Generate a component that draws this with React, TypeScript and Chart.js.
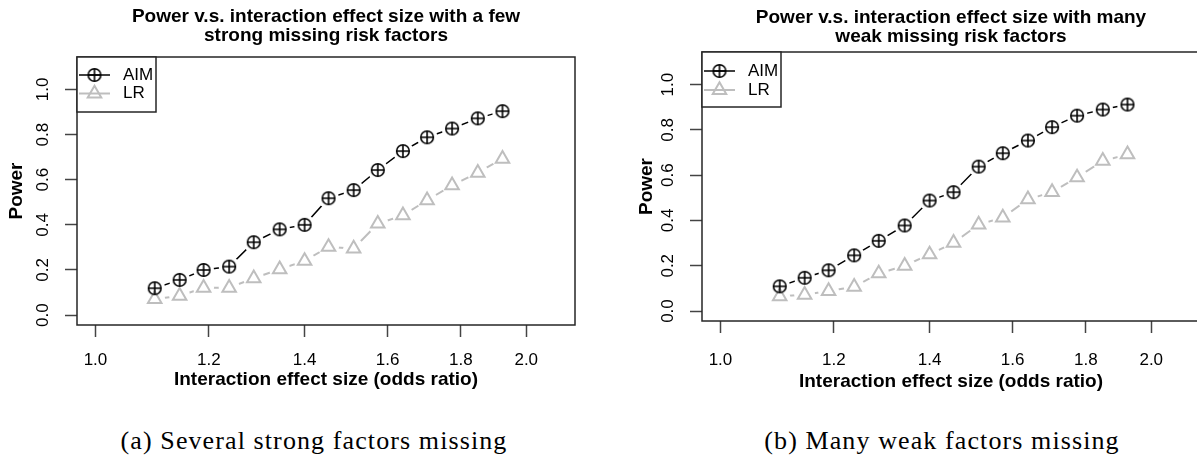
import React, { useEffect, useRef } from 'react';
import { Chart, registerables } from 'chart.js';

Chart.register(...registerables);

// ---------------- data ----------------
const oddsRatios = [1.1, 1.145, 1.19, 1.24, 1.29, 1.345, 1.4, 1.455, 1.515, 1.575, 1.64, 1.705, 1.775, 1.85, 1.925];
const xTickValues = [1.0, 1.2, 1.4, 1.6, 1.8, 2.0];
const yTickValues = [0.0, 0.2, 0.4, 0.6, 0.8, 1.0];
const seriesNames = ['AIM', 'LR'];

const strongAim = [0.119, 0.156, 0.2, 0.215, 0.323, 0.38, 0.4, 0.518, 0.554, 0.643, 0.727, 0.788, 0.827, 0.872, 0.904];
const strongLr = [0.071, 0.085, 0.121, 0.121, 0.163, 0.203, 0.24, 0.302, 0.295, 0.405, 0.442, 0.509, 0.575, 0.631, 0.693];
const weakAim = [0.109, 0.147, 0.18, 0.246, 0.31, 0.378, 0.488, 0.525, 0.638, 0.697, 0.753, 0.812, 0.863, 0.89, 0.912];
const weakLr = [0.065, 0.072, 0.088, 0.107, 0.166, 0.2, 0.25, 0.301, 0.382, 0.413, 0.493, 0.525, 0.59, 0.663, 0.692];

const titleStrong = ['Power v.s. interaction effect size with a few', 'strong missing risk factors'];
const titleWeak = ['Power v.s. interaction effect size with many', 'weak missing risk factors'];
const captionStrong = '(a) Several strong factors missing';
const captionWeak = '(b) Many weak factors missing';
const xAxisTitle = 'Interaction effect size (odds ratio)';
const yAxisTitle = 'Power';

// axis limits (R: xlim = c(1, 2.1) on log scale, ylim = c(0, 1.1), each extended by 4%)
const xMin = 0.9707;
const xMax = 2.1632;
const yMin = -0.044;
const yMax = 1.144;

// ---------------- styling ----------------
const SANS = "'Liberation Sans', Arial, Helvetica, sans-serif";
const SERIF = "'Liberation Serif', 'Times New Roman', serif";
const BLACK = '#000000';
const GRAY = '#bebebe';
const FRAME = '#262626';
const CANVAS_W = 652;
const CANVAS_H = 400;

type Geom = {
  titleTop: number;
  titleBottom: number;
  xAxisHeight: number;
  xTickPad: number;
  xTitlePad: number;
  yTitlePad: number;
  legendRow1: number;
  legendRow2: number;
};

function makeCirclePlus(r: number, lw: number): HTMLCanvasElement {
  const size = 18;
  const c = document.createElement('canvas');
  c.width = size;
  c.height = size;
  const g = c.getContext('2d')!;
  const m = size / 2;
  g.strokeStyle = BLACK;
  g.lineWidth = lw;
  g.beginPath();
  g.arc(m, m, r, 0, Math.PI * 2);
  g.stroke();
  g.beginPath();
  g.moveTo(m - r, m);
  g.lineTo(m + r, m);
  g.moveTo(m, m - r);
  g.lineTo(m, m + r);
  g.stroke();
  return c;
}

function drawTriangle(ctx: CanvasRenderingContext2D, x: number, y: number, r: number) {
  const hw = r * Math.sin(Math.PI / 3);
  ctx.beginPath();
  ctx.moveTo(x, y - r);
  ctx.lineTo(x + hw, y + r / 2);
  ctx.lineTo(x - hw, y + r / 2);
  ctx.closePath();
  ctx.stroke();
}

function makeFramePlugin(plusImg: HTMLCanvasElement, geom: Geom) {
  return {
    id: 'rFrameLegend',
    afterDatasetsDraw(chart: any) {
      const { ctx, chartArea: a } = chart;
      ctx.save();
      // plot box
      ctx.strokeStyle = FRAME;
      ctx.lineWidth = 1.5;
      ctx.strokeRect(a.left, a.top, a.right - a.left, a.bottom - a.top);
      // legend box
      const lx = a.left;
      const ly = a.top;
      const lw = 79;
      const lh = 55;
      ctx.fillStyle = '#ffffff';
      ctx.fillRect(lx, ly, lw, lh);
      ctx.strokeRect(lx, ly, lw, lh);
      const rows = [ly + geom.legendRow1, ly + geom.legendRow2];
      // AIM entry
      ctx.strokeStyle = BLACK;
      ctx.lineWidth = 1.5;
      ctx.beginPath();
      ctx.moveTo(lx + 2, rows[0]);
      ctx.lineTo(lx + 33, rows[0]);
      ctx.stroke();
      ctx.drawImage(plusImg, lx + 17.5 - plusImg.width / 2, rows[0] - plusImg.height / 2);
      // LR entry
      ctx.strokeStyle = GRAY;
      ctx.lineWidth = 2;
      ctx.beginPath();
      ctx.moveTo(lx + 2, rows[1]);
      ctx.lineTo(lx + 33, rows[1]);
      ctx.stroke();
      drawTriangle(ctx, lx + 17.5, rows[1], 7.8);
      // labels
      ctx.fillStyle = BLACK;
      ctx.font = `17px ${SANS}`;
      ctx.textAlign = 'left';
      ctx.textBaseline = 'middle';
      ctx.fillText(seriesNames[0], lx + 46, rows[0]);
      ctx.fillText(seriesNames[1], lx + 46, rows[1]);
      ctx.restore();
    },
  };
}

function PowerPanel(props: {
  left: number;
  top: number;
  aim: number[];
  lr: number[];
  title: string[];
  geom: Geom;
}) {
  const ref = useRef<HTMLCanvasElement | null>(null);
  const { aim, lr, title, geom } = props;

  useEffect(() => {
    if (!ref.current) return;
    const plusImg = makeCirclePlus(6.3, 1.6);
    const pts = (ys: number[]) => oddsRatios.map((x, i) => ({ x, y: ys[i] }));
    const chart = new Chart(ref.current, {
      type: 'line',
      data: {
        datasets: [
          { label: seriesNames[0] + ' line', data: pts(aim), borderColor: BLACK, borderWidth: 1.5, pointRadius: 0, tension: 0, order: 3 },
          { label: seriesNames[1] + ' line', data: pts(lr), borderColor: GRAY, borderWidth: 2, pointRadius: 0, tension: 0, order: 3 },
          { label: seriesNames[0] + ' gap', data: pts(aim), showLine: false, pointStyle: 'circle', pointRadius: 10.5, pointBackgroundColor: '#ffffff', pointBorderColor: '#ffffff', pointBorderWidth: 0, order: 2 },
          { label: seriesNames[1] + ' gap', data: pts(lr), showLine: false, pointStyle: 'circle', pointRadius: 10.5, pointBackgroundColor: '#ffffff', pointBorderColor: '#ffffff', pointBorderWidth: 0, order: 2 },
          { label: seriesNames[0], data: pts(aim), showLine: false, pointStyle: plusImg as any, pointRadius: 7, order: 1 },
          { label: seriesNames[1], data: pts(lr), showLine: false, pointStyle: 'triangle', pointRadius: 7.8, pointBorderColor: GRAY, pointBorderWidth: 2, pointBackgroundColor: 'rgba(0,0,0,0)', order: 1 },
        ] as any,
      },
      options: {
        animation: false,
        responsive: false,
        devicePixelRatio: 1,
        events: [],
        layout: { padding: 0 },
        plugins: {
          legend: { display: false },
          tooltip: { enabled: false },
          title: {
            display: true,
            text: title,
            color: BLACK,
            font: { family: SANS, size: 19, weight: 'bold', lineHeight: 1.0 },
            padding: { top: geom.titleTop, bottom: geom.titleBottom },
          },
        },
        scales: {
          x: {
            type: 'logarithmic',
            min: xMin,
            max: xMax,
            afterBuildTicks: (axis: any) => {
              axis.ticks = xTickValues.map((v) => ({ value: v }));
            },
            afterFit: (axis: any) => {
              axis.height = geom.xAxisHeight;
            },
            grid: { display: true, drawOnChartArea: false, drawTicks: true, tickLength: 12, tickColor: '#444', tickWidth: 1.5 },
            border: { display: false },
            ticks: {
              autoSkip: false,
              maxRotation: 0,
              minRotation: 0,
              padding: geom.xTickPad,
              color: BLACK,
              font: { family: SANS, size: 17 },
              callback: (v: any) => Number(v).toFixed(1),
            },
            title: {
              display: true,
              text: xAxisTitle,
              color: BLACK,
              font: { family: SANS, size: 19, weight: 'bold' },
              padding: { top: 0, bottom: geom.xTitlePad },
            },
          },
          y: {
            type: 'linear',
            position: 'left',
            min: yMin,
            max: yMax,
            afterBuildTicks: (axis: any) => {
              axis.ticks = yTickValues.map((v) => ({ value: v }));
            },
            afterFit: (axis: any) => {
              axis.width = 77;
            },
            grid: { display: true, drawOnChartArea: false, drawTicks: true, tickLength: 12, tickColor: '#444', tickWidth: 1.5 },
            border: { display: false },
            ticks: {
              autoSkip: false,
              minRotation: 90,
              maxRotation: 90,
              crossAlign: 'center',
              padding: 10.2,
              color: BLACK,
              font: { family: SANS, size: 17 },
              callback: (v: any) => Number(v).toFixed(1),
            },
            title: {
              display: true,
              text: yAxisTitle,
              color: BLACK,
              font: { family: SANS, size: 19, weight: 'bold' },
              padding: { top: geom.yTitlePad, bottom: 0 },
            },
          },
          yRight: {
            type: 'linear',
            position: 'right',
            display: true,
            grid: { display: false },
            border: { display: false },
            ticks: { display: false },
            afterFit: (axis: any) => {
              axis.width = 77;
            },
          },
        },
      } as any,
      plugins: [makeFramePlugin(plusImg, geom)],
    });
    return () => chart.destroy();
  }, [aim, lr, title, geom]);

  return (
    <canvas
      ref={ref}
      width={CANVAS_W}
      height={CANVAS_H}
      style={{ position: 'absolute', left: props.left, top: props.top, width: CANVAS_W, height: CANVAS_H }}
    />
  );
}

const geomStrong: Geom = {
  titleTop: 7.5,
  titleBottom: 11.5,
  xAxisHeight: 75,
  xTickPad: 12.8,
  xTitlePad: 8.6,
  yTitlePad: 5.6,
  legendRow1: 18,
  legendRow2: 36.5,
};

const geomWeak: Geom = {
  titleTop: 8.5,
  titleBottom: 5.5,
  xAxisHeight: 79,
  xTickPad: 16.8,
  xTitlePad: 7.1,
  yTitlePad: 10.3,
  legendRow1: 19,
  legendRow2: 38,
};

function Caption(props: { left: number; text: string }) {
  return (
    <div
      style={{
        position: 'absolute',
        left: props.left,
        top: 428,
        width: 628,
        textAlign: 'center',
        fontFamily: SERIF,
        fontSize: 26,
        lineHeight: '26px',
        letterSpacing: '1.1px',
        color: BLACK,
        whiteSpace: 'nowrap',
      }}
    >
      {props.text}
    </div>
  );
}

export default function App() {
  useEffect(() => {
    document.body.style.margin = '0';
    document.body.style.overflow = 'hidden';
    document.body.style.background = '#ffffff';
  }, []);
  return (
    <div style={{ position: 'relative', width: 1197, height: 456, overflow: 'hidden', background: '#ffffff' }}>
      <PowerPanel left={0} top={0} aim={strongAim} lr={strongLr} title={titleStrong} geom={geomStrong} />
      <PowerPanel left={625} top={0} aim={weakAim} lr={weakLr} title={titleWeak} geom={geomWeak} />
      <Caption left={0} text={captionStrong} />
      <Caption left={628} text={captionWeak} />
    </div>
  );
}
